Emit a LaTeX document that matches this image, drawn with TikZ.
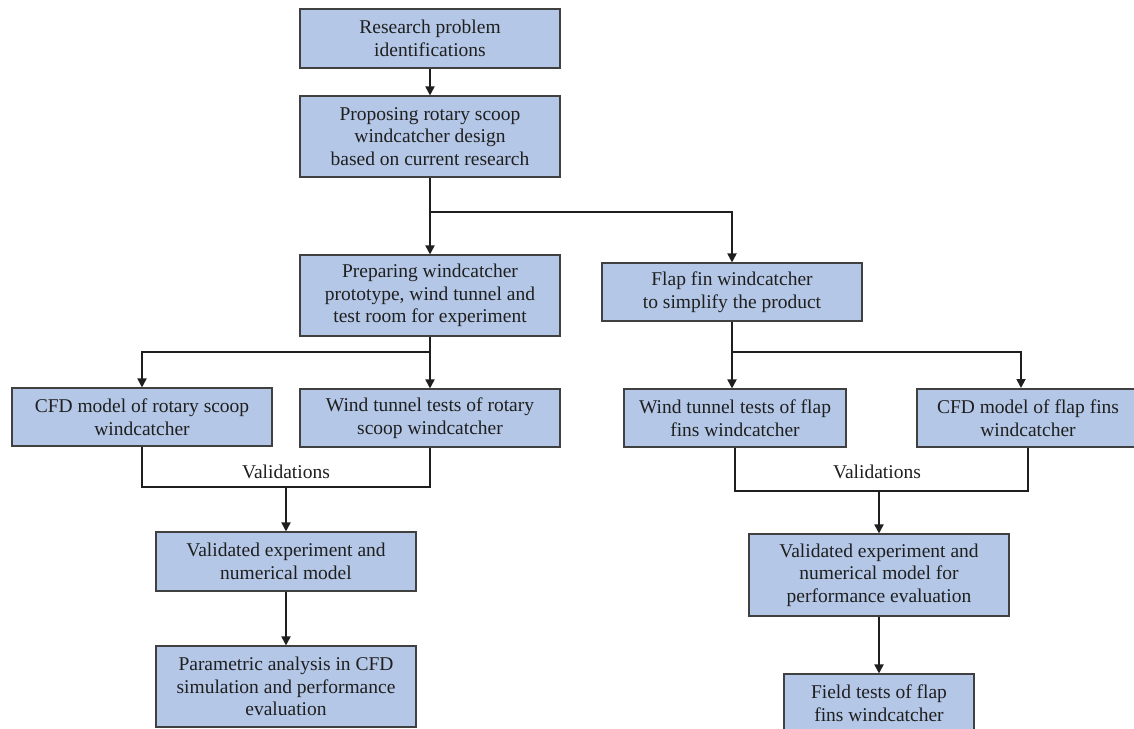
\documentclass[tikz,border=0pt]{standalone}
\usepackage{fontspec}
\setmainfont{Liberation Serif}
\usetikzlibrary{arrows.meta}
\definecolor{boxblue}{HTML}{B4C7E7}
\definecolor{edgegray}{HTML}{404040}
\definecolor{inkgray}{HTML}{1F1F1F}
\begin{document}
\begin{tikzpicture}[x=1pt, y=-1pt,
  box/.style={draw=edgegray, line width=1.1pt, fill=boxblue, text=inkgray, inner sep=0pt,
    align=center, font=\fontsize{19.5}{22.5}\selectfont},
  link/.style={draw=inkgray, line width=1.8pt},
  arr/.style={link, -{Triangle[width=9pt, length=9pt]}}]
  \useasboundingbox[fill=white] (0,0) rectangle (1134,728);     % page

  % top of the chart
  \node[box, minimum width=260pt, minimum height=59pt] (ident) at (430,38.5)
    {Research problem\\identifications};
  \node[box, minimum width=260pt, minimum height=81pt] (propose) at (430,136.5)
    {Proposing rotary scoop\\windcatcher design\\based on current research};
  \node[box, minimum width=260pt, minimum height=81pt] (prepare) at (430,295.5)
    {Preparing windcatcher\\prototype, wind tunnel and\\test room for experiment};
  \node[box, minimum width=260pt, minimum height=58pt] (flap) at (732,292)
    {Flap fin windcatcher\\to simplify the product};

  % left branch: rotary scoop
  \node[box, minimum width=260pt, minimum height=58pt] (cfdrot) at (142,417)
    {CFD model of rotary scoop\\windcatcher};
  \node[box, minimum width=260pt, minimum height=58pt] (tunrot) at (430,418)
    {Wind tunnel tests of rotary\\scoop windcatcher};
  \node[font=\fontsize{19.5}{22.5}\selectfont, text=inkgray] (valrot) at (286,472) {Validations};
  \node[box, minimum width=260pt, minimum height=59pt] (modrot) at (286,561.5)
    {Validated experiment and\\numerical model};
  \node[box, minimum width=260pt, minimum height=81pt] (param) at (286,686.5)
    {Parametric analysis in CFD\\simulation and performance\\evaluation};

  % right branch: flap fins
  \node[box, minimum width=222pt, minimum height=58pt] (tunflap) at (735,418)
    {Wind tunnel tests of flap\\fins windcatcher};
  \node[box, minimum width=222pt, minimum height=58pt] (cfdflap) at (1028,418)
    {CFD model of flap fins\\windcatcher};
  \node[font=\fontsize{19.5}{22.5}\selectfont, text=inkgray] (valflap) at (877,472) {Validations};
  \node[box, minimum width=260pt, minimum height=82pt] (modflap) at (879,575)
    {Validated experiment and\\numerical model for\\performance evaluation};
  \node[box, minimum width=190pt, minimum height=58pt] (field) at (879,703)
    {Field tests of flap\\fins windcatcher};

  % split and join points
  \coordinate (splittop) at (430,212);
  \coordinate (splitrot) at (430,352);
  \coordinate (splitflap) at (732,352);
  \coordinate (joinrot) at (286,487);
  \coordinate (joinflap) at (879,491);

  % connectors
  \draw[arr] (ident) -- (propose);
  \draw[arr] (propose) -- (prepare);
  \draw[arr] (splittop) -| (flap.north);
  \draw[arr] (prepare) -- (tunrot);
  \draw[arr] (splitrot) -| (cfdrot.north);
  \draw[link] (flap.south) -- (splitflap);
  \draw[arr] (splitflap) -- (splitflap |- tunflap.north);
  \draw[arr] (splitflap) -- (1021,352) -- (1021,388);
  \draw[link] (cfdrot.south) |- (joinrot) -| (tunrot.south);
  \draw[arr] (joinrot) -- (modrot);
  \draw[arr] (modrot) -- (param);
  \draw[link] (tunflap.south) |- (joinflap) -| (cfdflap.south);
  \draw[arr] (joinflap) -- (modflap);
  \draw[arr] (modflap) -- (field);
\end{tikzpicture}
\end{document}
